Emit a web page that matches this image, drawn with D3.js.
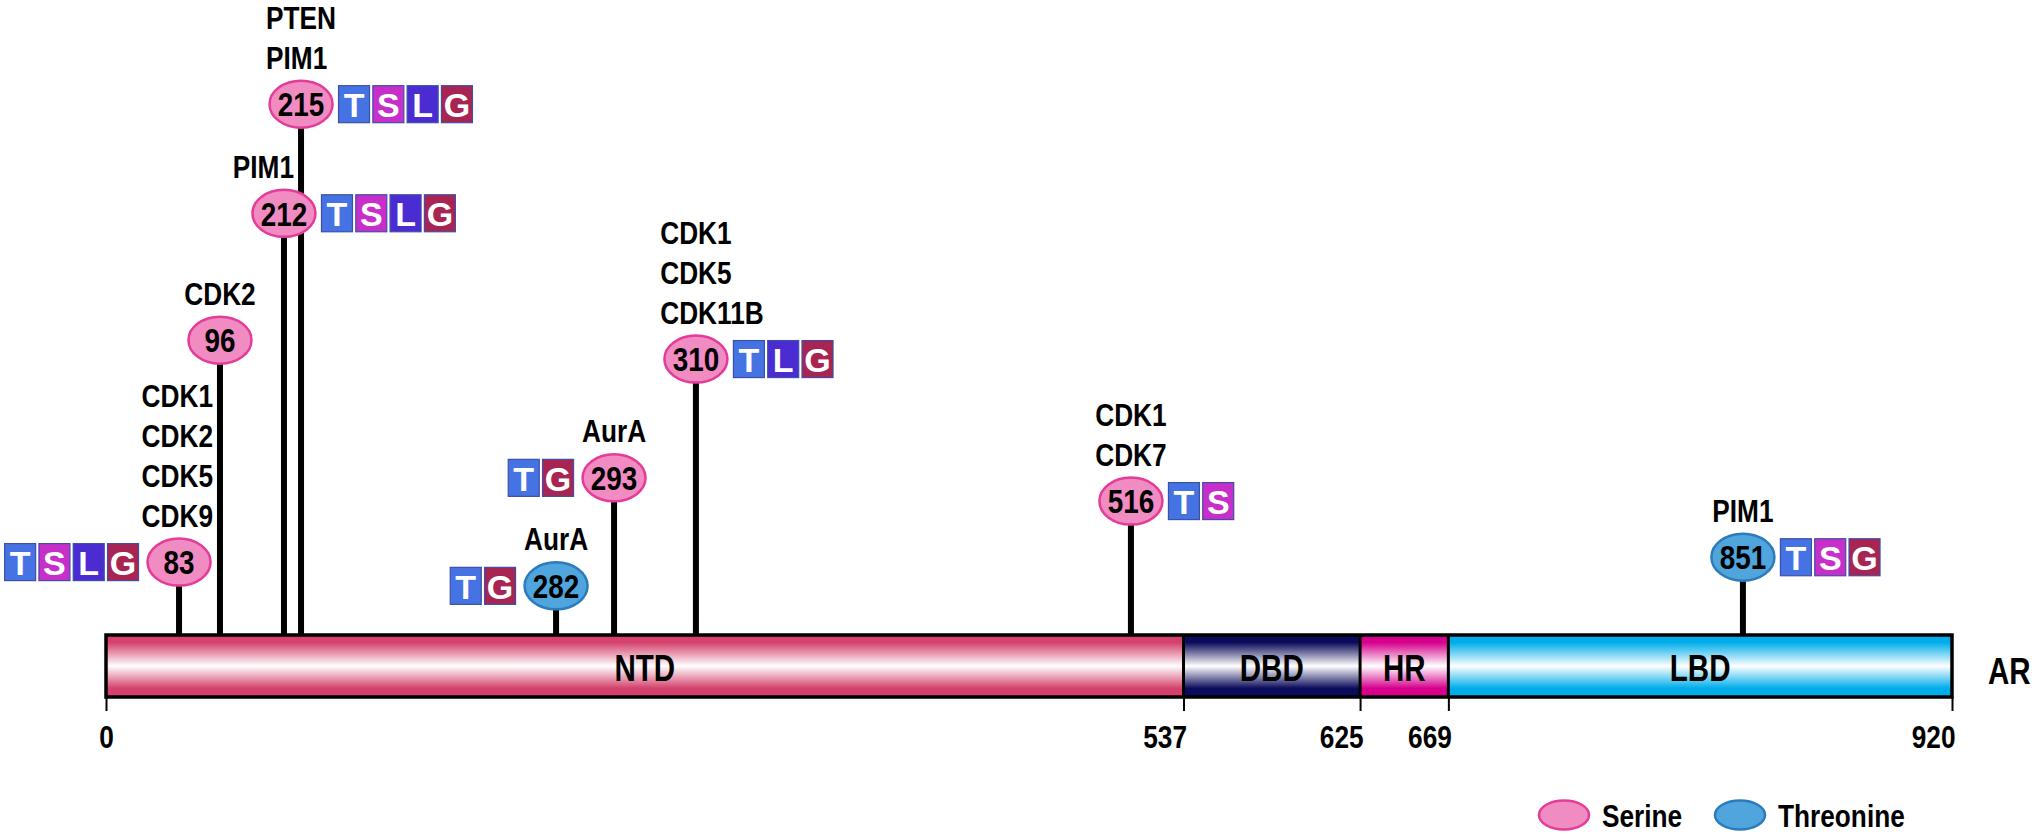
<!DOCTYPE html>
<html>
<head>
<meta charset="utf-8">
<script src="https://cdn.jsdelivr.net/npm/d3@7"></script>
<style>
  html, body { margin: 0; padding: 0; background: #ffffff; }
  svg { display: block; }
</style>
</head>
<body>
<svg id="chart" width="2040" height="837"></svg>
<script>
// ---------------- DATA ----------------
const proteinName = "AR";
const proteinLength = 920;

const domainNames = ["NTD", "DBD", "HR", "LBD"];
const domainStart = [0, 537, 625, 669];
const domainEnd   = [537, 625, 669, 920];
const axisTicks   = [0, 537, 625, 669, 920];

// phosphorylation sites
const siteResidues = [83, 96, 212, 215, 282, 293, 310, 516, 851];
const siteTypes    = ["Serine", "Serine", "Serine", "Serine", "Threonine",
                      "Serine", "Serine", "Serine", "Threonine"];
const siteKinases  = [["CDK1", "CDK2", "CDK5", "CDK9"], ["CDK2"], ["PIM1"], ["PTEN", "PIM1"],
                      ["AurA"], ["AurA"], ["CDK1", "CDK5", "CDK11B"], ["CDK1", "CDK7"], ["PIM1"]];
const siteTags     = [["T", "S", "L", "G"], [], ["T", "S", "L", "G"], ["T", "S", "L", "G"],
                      ["T", "G"], ["T", "G"], ["T", "L", "G"], ["T", "S"], ["T", "S", "G"]];
// where each marker is drawn along the (schematic) axis, in residue units
const siteAxisPos  = [36.4, 56.8, 88.7, 97.2, 224.3, 253.2, 294.0, 510.8, 815.8];
// lollipop stem height (relative units, 0-100)
const stemHeight   = [13.5, 54.6, 78.1, 98.3, 9.1, 29.1, 51.1, 24.8, 14.4];

const legendLabels = ["Serine", "Threonine"];

// ---------------- STYLE ----------------
const domainColor   = { NTD: "#d4416c", DBD: "#0b0b5b", HR: "#d6008c", LBD: "#00adea" };
const residueFill   = { Serine: "#f08cc1", Threonine: "#4fa5dc" };
const residueStroke = { Serine: "#e43c98", Threonine: "#2b7bbd" };
const tagFill       = { T: "#4573e3", S: "#c82fca", L: "#4b2bd2", G: "#a82452" };

const W = 2040, H = 837;
const barLeft = 106, barRight = 1952, barTop = 635, barH = 62;

// font handling: narrow bold (Arial Narrow like)
function hasFont(name) {
  const c = document.createElement("canvas").getContext("2d");
  c.font = "bold 40px monospace";
  const a = c.measureText("CDK11B PTEN Wg").width;
  c.font = `bold 40px '${name}', monospace`;
  const b = c.measureText("CDK11B PTEN Wg").width;
  return a !== b;
}
const narrowName = ["Liberation Sans Narrow", "Arial Narrow"].find(hasFont);
const LABEL_FONT = narrowName ? `'${narrowName}', sans-serif` : "'Liberation Sans', Arial, sans-serif";
const SQUEEZE = narrowName ? 1 : 0.82;

function narrow(sel, size) {
  sel.style("font-family", LABEL_FONT).style("font-weight", "bold").style("font-size", size + "px");
  if (SQUEEZE < 1) {
    sel.each(function () {
      const w = this.getComputedTextLength();
      this.setAttribute("textLength", (w * SQUEEZE).toFixed(1));
      this.setAttribute("lengthAdjust", "spacingAndGlyphs");
    });
  }
  return sel;
}
function textWidth(node) {
  const t = node.getAttribute("textLength");
  return t ? +t : node.getComputedTextLength();
}

// ---------------- SCALES ----------------
const x = d3.scaleLinear().domain([0, proteinLength]).range([barLeft, barRight]);
const y = d3.scaleLinear().domain([0, 100]).range([barTop, barTop - 540]);

const svg = d3.select("#chart");
const defs = svg.append("defs");

// gradients
domainNames.forEach(n => {
  const g = defs.append("linearGradient").attr("id", "grad-" + n)
    .attr("x1", 0).attr("y1", 0).attr("x2", 0).attr("y2", 1);
  [[0, domainColor[n]], [0.12, domainColor[n]], [0.5, "#ffffff"], [0.86, domainColor[n]], [1, domainColor[n]]]
    .forEach(([o, c]) => g.append("stop").attr("offset", o).attr("stop-color", c));
});

const sites = siteResidues.map((r, i) => ({
  residue: r, type: siteTypes[i], kinases: siteKinases[i], tags: siteTags[i],
  cx: x(siteAxisPos[i]), cy: y(stemHeight[i])
}));
const RX = 31.5, RY = 23.5;

// ---------------- STEMS ----------------
svg.append("g").selectAll("line").data(sites).join("line")
  .attr("x1", d => d.cx).attr("x2", d => d.cx)
  .attr("y1", d => d.cy).attr("y2", barTop)
  .attr("stroke", "#000").attr("stroke-width", 6);

// ---------------- PROTEIN BAR ----------------
const barG = svg.append("g");
barG.selectAll("rect.dom").data(domainNames).join("rect")
  .attr("class", "dom")
  .attr("x", (d, i) => x(domainStart[i]))
  .attr("width", (d, i) => x(domainEnd[i]) - x(domainStart[i]))
  .attr("y", barTop).attr("height", barH)
  .attr("fill", d => `url(#grad-${d})`);
barG.selectAll("line.sep").data(domainStart.slice(1)).join("line")
  .attr("class", "sep")
  .attr("x1", d => x(d)).attr("x2", d => x(d))
  .attr("y1", barTop).attr("y2", barTop + barH)
  .attr("stroke", "#000").attr("stroke-width", 3);
barG.append("rect")
  .attr("x", x(0)).attr("width", x(proteinLength) - x(0))
  .attr("y", barTop).attr("height", barH)
  .attr("fill", "none").attr("stroke", "#000").attr("stroke-width", 3.5);
narrow(barG.selectAll("text.dlab").data(domainNames).join("text")
  .attr("class", "dlab")
  .attr("x", (d, i) => (x(domainStart[i]) + x(domainEnd[i])) / 2)
  .attr("y", barTop + barH / 2 + 2).attr("dy", "0.36em")
  .attr("text-anchor", "middle").attr("fill", "#000")
  .text(d => d), 36);

// protein name
narrow(svg.append("text")
  .attr("x", x(proteinLength) + 36).attr("y", barTop + barH / 2 + 5).attr("dy", "0.36em")
  .attr("fill", "#000").text(proteinName), 36);

// ---------------- AXIS ----------------
const axisG = svg.append("g").attr("transform", `translate(0,${barTop + barH})`)
  .call(d3.axisBottom(x).tickValues(axisTicks).tickSize(14).tickSizeOuter(0).tickFormat(d3.format("d")));
axisG.select(".domain").remove();
axisG.selectAll(".tick line").attr("stroke", "#000").attr("stroke-width", 2);
axisG.selectAll(".tick text")
  .attr("y", 51).attr("dy", null).attr("fill", "#000")
  .attr("text-anchor", (d, i) => i === 0 ? "middle" : "end")
  .attr("x", (d, i) => i === 0 ? 0 : 3);
narrow(axisG.selectAll(".tick text"), 32);

// ---------------- SITE MARKERS ----------------
const TAG_W = 31, TAG_H = 37, TAG_PITCH = 34.3;
const siteG = svg.append("g").selectAll("g.site").data(sites).join("g").attr("class", "site");

siteG.append("ellipse")
  .attr("cx", d => d.cx).attr("cy", d => d.cy).attr("rx", RX).attr("ry", RY)
  .attr("fill", d => residueFill[d.type]).attr("stroke", d => residueStroke[d.type])
  .attr("stroke-width", 2.5);
narrow(siteG.append("text")
  .attr("x", d => d.cx).attr("y", d => d.cy).attr("dy", "0.36em")
  .attr("text-anchor", "middle").attr("fill", "#000")
  .text(d => d.residue), 34);

// kinase labels (stacked above the marker, left-aligned on the centred first line,
// nudged away from neighbouring stems)
siteG.each(function (d, i) {
  const g = d3.select(this).append("g");
  const n = d.kinases.length;
  const lastBase = d.cy - RY - 12;
  const texts = g.selectAll("text").data(d.kinases).join("text")
    .attr("x", 0).attr("y", (k, j) => lastBase - (n - 1 - j) * 40)
    .attr("text-anchor", "start").attr("fill", "#000").text(k => k);
  narrow(texts, 32);
  const widths = [];
  texts.each(function () { widths.push(textWidth(this)); });
  const maxW = d3.max(widths);
  let left = d.cx - widths[0] / 2;
  const bottom = lastBase + 4;
  sites.forEach((o, j) => {
    if (j === i) return;
    if (o.cy >= bottom) return;
    if (o.cx + 7 > left && o.cx - 7 < left + maxW) {
      left = o.cx > d.cx ? (o.cx - 7) - maxW : (o.cx + 7);
    }
  });
  g.attr("transform", `translate(${left},0)`);

  // source tags: right of the marker unless that would cross another stem
  const nt = d.tags.length;
  if (!nt) return;
  const span = nt * TAG_PITCH - (TAG_PITCH - TAG_W);
  let start = d.cx + RX + 6;
  const blocked = sites.some((o, j) => j !== i && o.cy < d.cy + TAG_H / 2 &&
    o.cx + 3 > start - 4 && o.cx - 3 < start + span + 4);
  if (blocked) start = d.cx - RX - 9 - span;
  const tg = d3.select(this).append("g");
  const cell = tg.selectAll("g").data(d.tags).join("g")
    .attr("transform", (t, j) => `translate(${start + j * TAG_PITCH},${d.cy - TAG_H / 2})`);
  cell.append("rect").attr("width", TAG_W).attr("height", TAG_H)
    .attr("fill", t => tagFill[t]).attr("stroke", "#3d4fa6").attr("stroke-width", 1.2);
  cell.append("text").attr("x", TAG_W / 2).attr("y", TAG_H / 2 + 0.5).attr("dy", "0.36em")
    .attr("text-anchor", "middle").attr("fill", "#fff")
    .style("font-family", "'Liberation Sans', Arial, sans-serif").style("font-weight", "bold")
    .style("font-size", "34px").text(t => t);
});

// ---------------- LEGEND ----------------
const legendX = [1539, 1715], legendY = 815;
const lg = svg.append("g").selectAll("g").data(legendLabels).join("g")
  .attr("transform", (d, i) => `translate(${legendX[i]},${legendY})`);
lg.append("ellipse").attr("cx", 25).attr("cy", 0).attr("rx", 25).attr("ry", 14.5)
  .attr("fill", d => residueFill[d]).attr("stroke", d => residueStroke[d]).attr("stroke-width", 2.5);
narrow(lg.append("text").attr("x", 63).attr("y", 0).attr("dy", "0.36em").attr("fill", "#000").text(d => d), 32);
</script>
</body>
</html>
